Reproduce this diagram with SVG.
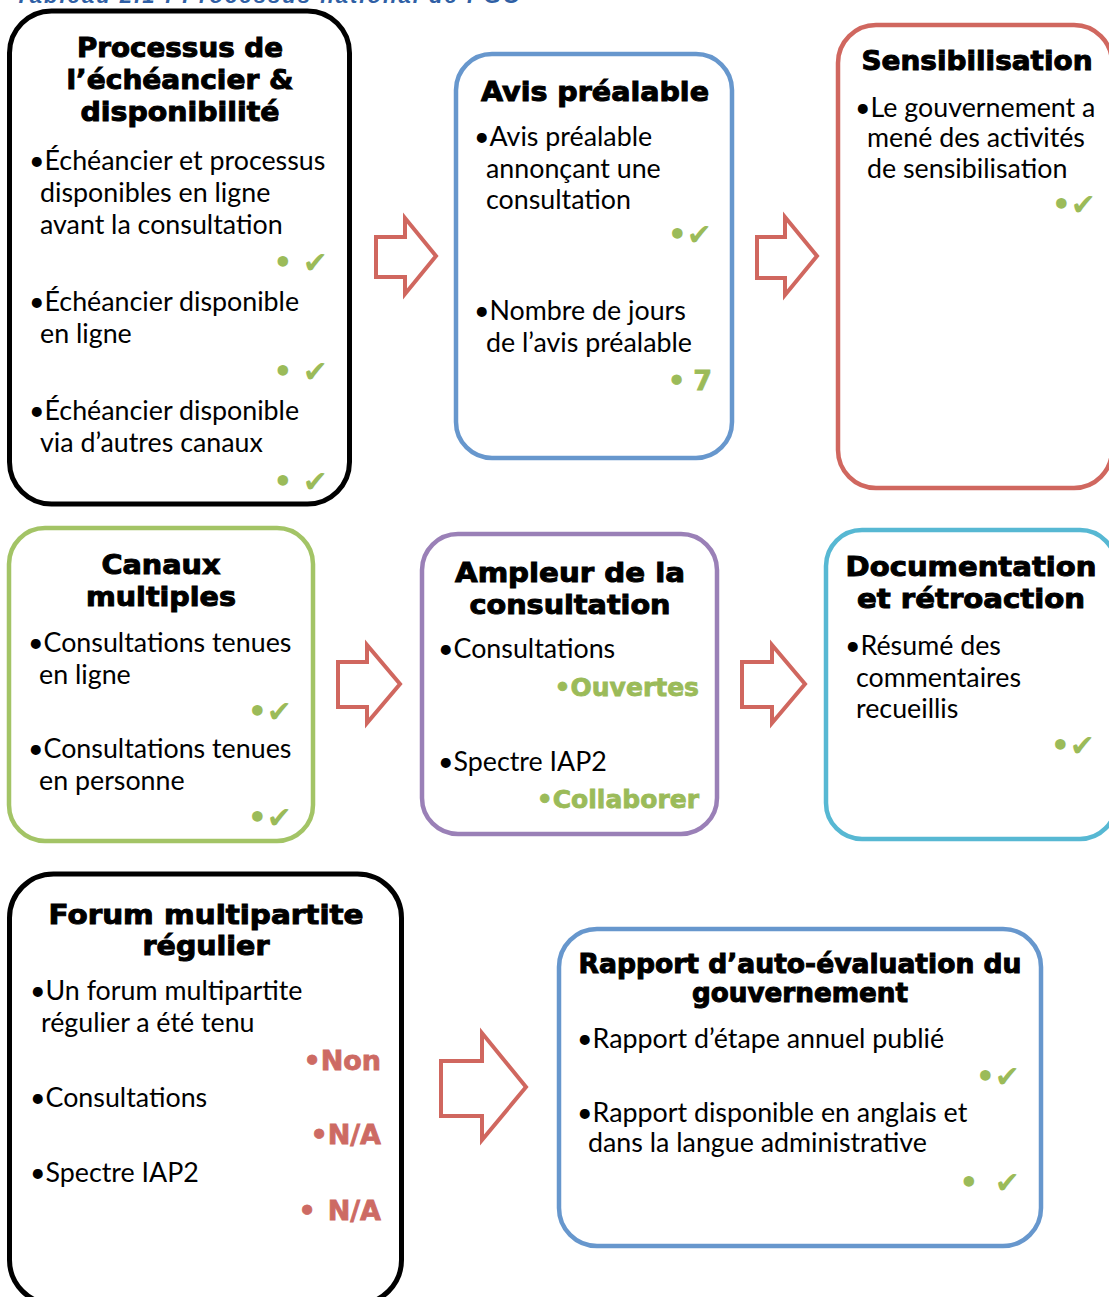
<svg xmlns="http://www.w3.org/2000/svg" width="1109" height="1297" viewBox="0 0 1109 1297">
<style>
.box{fill:#fff;stroke-width:4.5}
.k{stroke:#000;stroke-width:5}
.b{stroke:#6797cd}
.r{stroke:#d0675f}
.g{stroke:#a3c466}
.p{stroke:#9a80b7}
.c{stroke:#57b8d3}
.arrow{fill:#fff;stroke:#d0675f;stroke-width:4;stroke-linejoin:miter}
.t{font-family:"DejaVu Sans",sans-serif;font-weight:bold;font-size:27px;fill:#000;stroke:#000;stroke-width:1;text-anchor:middle}
.x{font-family:Lato,"Liberation Sans",sans-serif;font-size:26.8px;fill:#000}
.ok{font-family:"DejaVu Sans",sans-serif;font-size:30px;fill:#9bbb59;text-anchor:end;font-weight:bold}
.vg{font-family:"DejaVu Sans",sans-serif;font-weight:bold;font-size:25px;fill:#9bbb59;stroke:#9bbb59;stroke-width:0.8;text-anchor:end}
.vr{font-family:"DejaVu Sans",sans-serif;font-weight:bold;font-size:27px;fill:#cd6a63;stroke:#cd6a63;stroke-width:0.8;text-anchor:end}
.hd{font-family:"Liberation Sans",sans-serif;font-weight:bold;font-style:italic;font-size:22px;fill:#2f5fa5}
</style>
<text class="hd" x="15" y="3" textLength="505">Tableau 2.1 : Processus national de PGO</text>

<g id="connectors">
<polygon class="arrow" points="376,237 405,237 405,218 436,256 405,294 405,277 376,277"/>
<polygon class="arrow" points="757,237 785,237 785,217 817,256 785,295 785,278 757,278"/>
<polygon class="arrow" points="338,662 367,662 367,645 400,684 367,723 367,707 338,707"/>
<polygon class="arrow" points="742,662 772,662 772,645 805,684 772,723 772,707 742,707"/>
<polygon class="arrow" points="441,1061 482,1061 482,1033 526,1087 482,1140 482,1116 441,1116"/>
</g>

<g id="n1">
<rect class="box k" x="9.5" y="11" width="340" height="493" rx="42"/>
<text class="t" x="180" y="57" textLength="206" lengthAdjust="spacingAndGlyphs">Processus de</text>
<text class="t" x="180" y="89" textLength="227" lengthAdjust="spacingAndGlyphs">l’échéancier &amp;</text>
<text class="t" x="180" y="121" textLength="199" lengthAdjust="spacingAndGlyphs">disponibilité</text>
<text class="x" x="29" y="170">•Échéancier et processus</text>
<text class="x" x="40" y="202">disponibles en ligne</text>
<text class="x" x="40" y="234">avant la consultation</text>
<text class="ok" x="328" y="273">• ✔</text>
<text class="x" x="29" y="311">•Échéancier disponible</text>
<text class="x" x="40" y="343">en ligne</text>
<text class="ok" x="328" y="382">• ✔</text>
<text class="x" x="29" y="420">•Échéancier disponible</text>
<text class="x" x="40" y="452">via d’autres canaux</text>
<text class="ok" x="328" y="492">• ✔</text>
</g>

<g id="n2">
<rect class="box b" x="456" y="54" width="276" height="404" rx="36"/>
<text class="t" x="595" y="101" textLength="228" lengthAdjust="spacingAndGlyphs">Avis préalable</text>
<text class="x" x="474" y="146">•Avis préalable</text>
<text class="x" x="486" y="178">annonçant une</text>
<text class="x" x="486" y="209">consultation</text>
<text class="ok" x="712" y="245">•✔</text>
<text class="x" x="474" y="320">•Nombre de jours</text>
<text class="x" x="486" y="352">de l’avis préalable</text>
<text class="vg" x="712" y="390" style="font-size:27px">•<tspan dx="8">7</tspan></text>
</g>

<g id="n3">
<rect class="box r" x="838" y="25" width="274" height="463" rx="38"/>
<text class="t" x="977" y="70" textLength="231" lengthAdjust="spacingAndGlyphs">Sensibilisation</text>
<text class="x" x="855" y="117">•Le gouvernement a</text>
<text class="x" x="867" y="147">mené des activités</text>
<text class="x" x="867" y="178">de sensibilisation</text>
<text class="ok" x="1096" y="215">•✔</text>
</g>

<g id="n4">
<rect class="box g" x="9" y="528" width="304" height="313" rx="36"/>
<text class="t" x="161" y="574" textLength="119" lengthAdjust="spacingAndGlyphs">Canaux</text>
<text class="t" x="161" y="606" textLength="150" lengthAdjust="spacingAndGlyphs">multiples</text>
<text class="x" x="28" y="652">•Consultations tenues</text>
<text class="x" x="39" y="684">en ligne</text>
<text class="ok" x="292" y="722">•✔</text>
<text class="x" x="28" y="758">•Consultations tenues</text>
<text class="x" x="39" y="790">en personne</text>
<text class="ok" x="292" y="828">•✔</text>
</g>

<g id="n5">
<rect class="box p" x="422" y="534" width="295" height="300" rx="36"/>
<text class="t" x="570" y="582" textLength="230" lengthAdjust="spacingAndGlyphs">Ampleur de la</text>
<text class="t" x="570" y="614" textLength="201" lengthAdjust="spacingAndGlyphs">consultation</text>
<text class="x" x="438" y="658">•Consultations</text>
<text class="vg" x="699" y="696">•Ouvertes</text>
<text class="x" x="438" y="771">•Spectre IAP2</text>
<text class="vg" x="699" y="808">•Collaborer</text>
</g>

<g id="n6">
<rect class="box c" x="826" y="530" width="290" height="309" rx="36"/>
<text class="t" x="971" y="576" textLength="251" lengthAdjust="spacingAndGlyphs">Documentation</text>
<text class="t" x="971" y="608" textLength="228" lengthAdjust="spacingAndGlyphs">et rétroaction</text>
<text class="x" x="845" y="655">•Résumé des</text>
<text class="x" x="856" y="687">commentaires</text>
<text class="x" x="856" y="718">recueillis</text>
<text class="ok" x="1095" y="756">•✔</text>
</g>

<g id="n7">
<rect class="box k" x="9.5" y="874" width="392" height="430" rx="44"/>
<text class="t" x="206" y="924" textLength="315" lengthAdjust="spacingAndGlyphs">Forum multipartite</text>
<text class="t" x="206" y="955" textLength="127" lengthAdjust="spacingAndGlyphs">régulier</text>
<text class="x" x="30" y="1000">•Un forum multipartite</text>
<text class="x" x="41" y="1032">régulier a été tenu</text>
<text class="vr" x="381" y="1070">•Non</text>
<text class="x" x="30" y="1107">•Consultations</text>
<text class="vr" x="381" y="1144">•N/A</text>
<text class="x" x="30" y="1182">•Spectre IAP2</text>
<text class="vr" x="381" y="1220">•<tspan dx="12">N/A</tspan></text>
</g>

<g id="n8">
<rect class="box b" x="559" y="929" width="482" height="317" rx="38"/>
<text class="t" x="800" y="973" style="font-size:26px" textLength="443" lengthAdjust="spacingAndGlyphs">Rapport d’auto-évaluation du</text>
<text class="t" x="800" y="1002" style="font-size:26px" textLength="216" lengthAdjust="spacingAndGlyphs">gouvernement</text>
<text class="x" x="577" y="1048">•Rapport d’étape annuel publié</text>
<text class="ok" x="1020" y="1087">•✔</text>
<text class="x" x="577" y="1122">•Rapport disponible en anglais et</text>
<text class="x" x="588" y="1152">dans la langue administrative</text>
<text class="ok" x="1020" y="1193">• <tspan dx="6">✔</tspan></text>
</g>
</svg>
